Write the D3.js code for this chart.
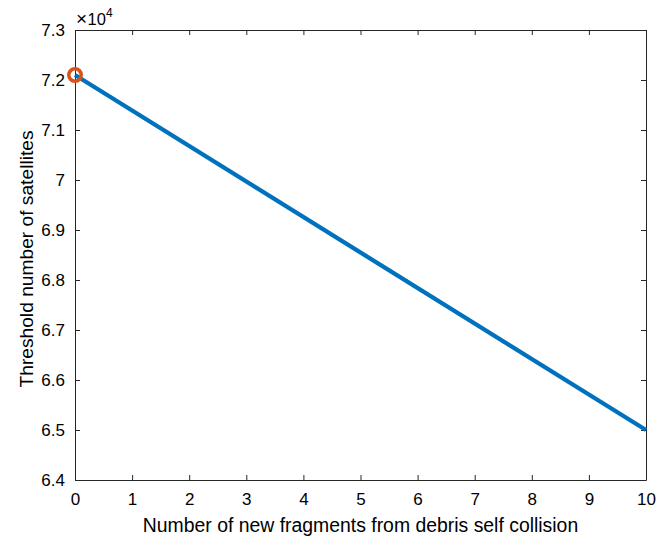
<!DOCTYPE html>
<html>
<head>
<meta charset="utf-8">
<script src="https://cdn.jsdelivr.net/npm/d3@7"></script>
<style>
  html, body { margin: 0; padding: 0; background: #fff; }
  svg { display: block; font-family: "Liberation Sans", Arial, Helvetica, sans-serif; }
</style>
</head>
<body>
<svg id="chart" width="672" height="539"></svg>
<script>
// Fragments produced per debris self-collision vs. satellite threshold
const fragments = [0, 10];
const thresholds = [72100, 65000];
const markerPoint = { x: 0, y: 72100 };

const xTicks = [0, 1, 2, 3, 4, 5, 6, 7, 8, 9, 10];
const yTicks = [64000, 65000, 66000, 67000, 68000, 69000, 70000, 71000, 72000, 73000];
const yTickLabels = ["6.4", "6.5", "6.6", "6.7", "6.8", "6.9", "7", "7.1", "7.2", "7.3"];

const xLabel = "Number of new fragments from debris self collision";
const yLabel = "Threshold number of satellites";

const svg = d3.select("#chart");
const m = { left: 75, right: 646, top: 30, bottom: 480 };
const axisColor = "#262626";

const x = d3.scaleLinear().domain([0, 10]).range([m.left, m.right]);
const y = d3.scaleLinear().domain([64000, 73000]).range([m.bottom, m.top]);

// bottom axis
const gx = svg.append("g").attr("transform", `translate(0,${m.bottom})`)
  .call(d3.axisBottom(x).tickValues(xTicks).tickFormat(d3.format("d")).tickSizeInner(-5).tickSizeOuter(0).tickPadding(13));
// top axis (ticks only)
const gxt = svg.append("g").attr("transform", `translate(0,${m.top})`)
  .call(d3.axisTop(x).tickValues(xTicks).tickFormat("").tickSizeInner(-5).tickSizeOuter(0));
// left axis
const gy = svg.append("g").attr("transform", `translate(${m.left},0)`)
  .call(d3.axisLeft(y).tickValues(yTicks).tickFormat((d, i) => yTickLabels[i]).tickSizeInner(-5).tickSizeOuter(0).tickPadding(10));
// right axis (ticks only)
const gyr = svg.append("g").attr("transform", `translate(${m.right},0)`)
  .call(d3.axisRight(y).tickValues(yTicks).tickFormat("").tickSizeInner(-5).tickSizeOuter(0));

[gx, gxt, gy, gyr].forEach(g => {
  g.selectAll(".domain").attr("stroke", axisColor).attr("stroke-width", 1);
  g.selectAll(".tick line").attr("stroke", axisColor).attr("stroke-width", 1);
  g.selectAll(".tick text").attr("fill", "#000").style("font-size", "17px")
    .style("font-family", '"Liberation Sans", Arial, sans-serif');
});

// exponent label
const exp = svg.append("text").attr("x", m.left + 1).attr("y", m.top - 5)
  .attr("fill", "#000").style("font-size", "16.5px");
exp.append("tspan").style("font-size", "19px").text("\u00d7");
exp.append("tspan").attr("dx", 0.5).text("10");
exp.append("tspan").attr("dy", -8).style("font-size", "12px").text("4");

// data line
const line = d3.line().x((d, i) => x(fragments[i])).y(d => y(d));
svg.append("path").datum(thresholds)
  .attr("d", line)
  .attr("fill", "none")
  .attr("stroke", "#0072BD")
  .attr("stroke-width", 4.3)
  .attr("stroke-linecap", "butt");

// highlighted starting point
svg.append("circle")
  .attr("cx", x(markerPoint.x)).attr("cy", y(markerPoint.y))
  .attr("r", 6.2)
  .attr("fill", "none")
  .attr("stroke", "#D95319")
  .attr("stroke-width", 3.6);

// axis titles
svg.append("text")
  .attr("x", (m.left + m.right) / 2).attr("y", 532)
  .attr("text-anchor", "middle").attr("fill", "#000")
  .style("font-size", "19.4px").text(xLabel);

svg.append("text")
  .attr("transform", `translate(33,${(m.top + m.bottom) / 2 + 4}) rotate(-90)`)
  .attr("text-anchor", "middle").attr("fill", "#000")
  .style("font-size", "19.2px").text(yLabel);
</script>
</body>
</html>
